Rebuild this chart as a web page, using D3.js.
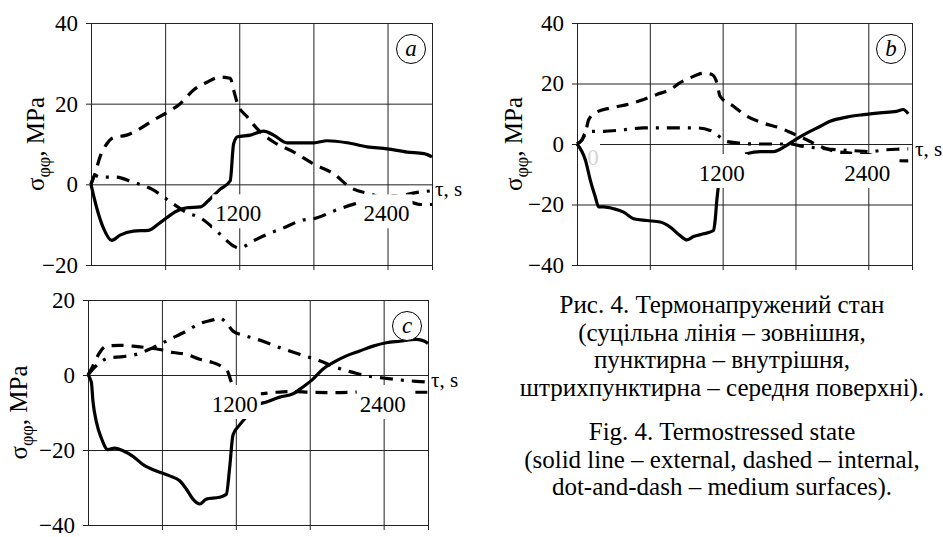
<!DOCTYPE html>
<html>
<head>
<meta charset="utf-8">
<script src="https://cdn.jsdelivr.net/npm/d3@7"></script>
<style>
  body { margin: 0; background: #fff; }
  svg { display: block; }
  svg text { fill: #000; }
</style>
</head>
<body>
<svg id="fig" width="943" height="537"></svg>
<script>
// time axis (s)
var tGrid = [600, 1200, 1800, 2400, 2760];
var tLabels = [1200, 2400];
var tMax = 2760;

// panel a
var aYTicks = [-20, 0, 20, 40];
var aExternal = [[0,0],[46,-5.8],[100,-10.8],[168,-13.9],[235,-12.6],[343,-11.6],[465,-11.4],[560,-9.5],[695,-6.6],[776,-5.8],[884,-5.6],[951,-4],[1046,-1.2],[1127,0.9],[1154,10],[1186,11.8],[1289,12.2],[1397,13.2],[1478,12.2],[1586,10.3],[1803,10.3],[1911,10.8],[2073,10.3],[2235,9.3],[2397,8.8],[2559,8],[2695,7.6],[2760,6.8]];
var aInternal = [[0,0],[32,2.6],[73,6.8],[127,10],[181,11.6],[289,12.2],[397,13.8],[505,15.9],[614,17.8],[722,20],[830,23.4],[938,25.3],[1046,26.6],[1127,26.3],[1154,23.4],[1186,20],[1262,16.8],[1370,13],[1478,10.5],[1641,8],[1803,5],[1965,2.6],[2100,-0.8],[2262,-2.4],[2370,-3.3],[2451,-2.8],[2559,-4],[2668,-5],[2760,-5]];
var aMedium = [[0,0],[32,2.2],[73,1.8],[195,1.8],[343,0.5],[492,-1.2],[614,-3.7],[668,-4.9],[776,-7],[884,-8.3],[1046,-12.4],[1154,-15.3],[1197,-15.8],[1316,-14],[1424,-12.4],[1559,-10.8],[1695,-9],[1830,-8.3],[1965,-6.6],[2127,-4.9],[2235,-4],[2505,-2.8],[2640,-2],[2760,-1.6]];

// panel b
var bYTicks = [-40, -20, 0, 20, 40];
var bExternal = [[0,0],[69,-5.3],[110,-12],[151,-17.5],[178,-20.8],[219,-20.8],[302,-21.4],[384,-22.5],[466,-24.7],[576,-25.3],[686,-25.8],[768,-27.5],[850,-30.3],[905,-31.7],[960,-30.6],[1042,-29.7],[1125,-28.6],[1138,-25.3],[1152,-18.6],[1166,-13.6],[1250,null],[1385,-3.3],[1509,-2.5],[1618,-2.5],[1714,-0.8],[1797,1.4],[1893,3.6],[2002,5.8],[2085,7.5],[2222,8.9],[2359,9.7],[2496,10.3],[2633,10.8],[2688,11.4],[2729,10]];
var bInternal = [[0,0],[41,1.4],[69,3.6],[96,8],[151,10.3],[274,11.9],[411,13],[549,14.7],[658,16.4],[768,18],[850,20.3],[933,21.9],[1042,23.4],[1111,23],[1152,20.3],[1179,15.8],[1289,12.5],[1399,9.2],[1536,6.9],[1673,5.3],[1797,3.1],[1893,1.4],[2002,-0.8],[2139,-2.5],[2277,-3.1],[2414,-3.6],[2523,-4.7],[2633,-5.5],[2729,-5.6]];
var bMedium = [[0,0],[41,1.4],[69,3.6],[137,4.2],[219,4.2],[384,4.7],[549,5.3],[768,5.3],[987,5.3],[1097,4.5],[1152,3.1],[1234,0.8],[1344,0.3],[1454,0],[1591,0],[1755,0],[1865,-0.8],[2002,-1.4],[2139,-1.9],[2277,-2.2],[2414,-2.5],[2551,-1.9],[2661,-1.7],[2729,-1.6]];

// panel c
var cYTicks = [-40, -20, 0, 20];
var cExternal = [[0,0],[27,-1.9],[41,-7.2],[68,-12.5],[108,-16.8],[162,-19.9],[216,-19.5],[284,-20.2],[365,-21.7],[447,-23.9],[555,-25.6],[663,-26.9],[744,-28.2],[798,-30.4],[852,-33.1],[906,-34.4],[960,-33.1],[1068,-32.6],[1123,-31.8],[1150,-24.7],[1177,-16],[1231,-13.3],[1299,-10.7],[1367,-8.1],[1448,-7.2],[1556,-5.9],[1664,-5],[1745,-3.2],[1826,-1.1],[1908,1.6],[1989,3.3],[2097,5.1],[2205,6.4],[2314,7.7],[2422,8.6],[2530,9],[2665,9.5],[2733,9],[2760,8.4]];
var cInternal = [[0,0],[41,2.5],[95,6],[149,7.7],[257,7.9],[365,7.7],[474,7.3],[582,6.8],[690,6],[798,5.5],[906,4.2],[1014,3.3],[1096,2],[1137,0.7],[1164,-1.9],[1191,-3.2],[1394,-5],[1529,-4.6],[1664,-4.4],[1799,-4.6],[1989,-4.7],[2124,-4.6],[2259,-4.4],[2394,-4.1],[2530,-4.3],[2665,-4.6],[2760,-4.6]];
var cMedium = [[0,0],[41,1.6],[95,3.3],[176,4.6],[284,4.9],[392,5.5],[528,7.3],[663,9.5],[798,11.7],[906,13.7],[1014,14.7],[1068,15.2],[1123,13.9],[1177,11.7],[1285,10.4],[1421,9],[1556,7.3],[1718,5.5],[1881,3.8],[2016,2],[2151,0.7],[2259,-0.2],[2394,-0.8],[2530,-1.3],[2665,-1.7],[2760,-1.9]];

var captionUk = ["Рис. 4. Термонапружений стан", "(суцільна лінія – зовнішня,", "пунктирна – внутрішня,", "штрихпунктирна – середня поверхні)."];
var captionEn = ["Fig. 4. Termostressed state", "(solid line – external, dashed – internal,", "dot-and-dash – medium surfaces)."];

var svg = d3.select("svg#fig");
var fontSize = 23;
var serif = "Liberation Serif, serif";

var panels = [
  { tag: "a", left: 91, right: 432, top: 23, bottom: 265, titleX: 35, yTicks: aYTicks, series: [aExternal, aInternal, aMedium] },
  { tag: "b", left: 577, right: 912, top: 23, bottom: 265, titleX: 513, yTicks: bYTicks, series: [bExternal, bInternal, bMedium], originLabel: true },
  { tag: "c", left: 88, right: 428, top: 300, bottom: 525, titleX: 18, yTicks: cYTicks, series: [cExternal, cInternal, cMedium] }
];

var dashes = [null, "12,8", "13,8,3,8"];

function drawPanel(p) {
  var w = p.right - p.left, h = p.bottom - p.top;
  var x = d3.scaleLinear().domain([0, tMax]).range([p.left, p.right]);
  var y = d3.scaleLinear().domain(d3.extent(p.yTicks)).range([p.bottom, p.top]);
  var y0 = y(0);
  var g = svg.append("g").attr("class", "panel-" + p.tag);

  // vertical grid + top border
  g.append("g")
    .attr("transform", "translate(0," + p.top + ")")
    .call(d3.axisBottom(x).tickValues(tGrid).tickSize(h + 5).tickSizeOuter(0).tickFormat(""));

  // horizontal grid + right border
  g.append("g")
    .attr("transform", "translate(" + p.right + ",0)")
    .call(d3.axisLeft(y).tickValues(p.yTicks).tickSize(w + 5).tickSizeOuter(0).tickFormat(""));

  // left axis with labels
  g.append("g")
    .attr("transform", "translate(" + p.left + ",0)")
    .call(d3.axisLeft(y).tickValues(p.yTicks).tickSize(0).tickPadding(13).tickFormat(d3.format("d")))
    .call(s => s.attr("font-family", serif).attr("font-size", fontSize))
    .call(s => s.selectAll("text").attr("fill", "#000"));

  g.selectAll(".tick line, .domain").attr("stroke", "#222").attr("stroke-width", 1);

  // faded origin label (sits under the curves)
  if (p.originLabel) {
    g.append("rect")
      .attr("x", p.left + 1)
      .attr("y", y0 - 3)
      .attr("width", 22)
      .attr("height", 28)
      .attr("fill", "#fff");
    g.append("text")
      .attr("x", p.left + 16)
      .attr("y", y0 + 21)
      .attr("text-anchor", "middle")
      .attr("font-family", serif)
      .attr("font-size", fontSize)
      .style("fill", "#d4d4d4")
      .text(0);
  }

  // curves
  var line = d3.line()
    .defined(d => d[1] !== null)
    .x(d => x(d[0]))
    .y(d => y(d[1]))
    .curve(d3.curveMonotoneX);

  g.selectAll("path.curve")
    .data(p.series)
    .enter().append("path")
    .attr("class", "curve")
    .attr("d", line)
    .attr("fill", "none")
    .attr("stroke", "#000")
    .attr("stroke-width", 3.2)
    .attr("stroke-dasharray", (d, i) => dashes[i]);

  // time labels on the zero line
  var lab = g.selectAll("g.tlabel")
    .data(tLabels)
    .enter().append("g")
    .attr("class", "tlabel");
  lab.append("rect")
    .attr("x", d => x(d) - 27)
    .attr("y", y0 + 10)
    .attr("width", 52)
    .attr("height", 34)
    .attr("fill", "#fff");
  lab.append("text")
    .attr("x", d => x(d) - 1)
    .attr("y", y0 + 37)
    .attr("text-anchor", "middle")
    .attr("font-family", serif)
    .attr("font-size", fontSize)
    .text(d => d);

  g.append("text")
    .attr("x", p.right + 3)
    .attr("y", y0 + 12)
    .attr("font-family", serif)
    .attr("font-size", 21)
    .text("τ, s");

  // panel tag
  g.append("circle")
    .attr("cx", p.right - 21)
    .attr("cy", p.top + 26)
    .attr("r", 14.5)
    .attr("fill", "#fff")
    .attr("stroke", "#000")
    .attr("stroke-width", 1);
  g.append("text")
    .attr("x", p.right - 21)
    .attr("y", p.top + 33)
    .attr("text-anchor", "middle")
    .attr("font-family", serif)
    .attr("font-size", fontSize)
    .attr("font-style", "italic")
    .text(p.tag);

  // y title
  var title = g.append("text")
    .attr("transform", "translate(" + p.titleX + "," + ((p.top + p.bottom) / 2) + ") rotate(-90)")
    .attr("text-anchor", "middle")
    .attr("dy", "0.35em")
    .attr("font-family", serif)
    .attr("font-size", 25);
  title.append("tspan").text("σ");
  title.append("tspan").attr("dy", 6).attr("font-size", 18).text("φφ");
  title.append("tspan").attr("dy", -6).text(", MPa");
}

panels.forEach(drawPanel);

// caption
var capX = 722, capSize = 25;
svg.selectAll("text.capUk")
  .data(captionUk)
  .enter().append("text")
  .attr("class", "capUk")
  .attr("x", capX)
  .attr("y", (d, i) => 313 + i * 27.5)
  .attr("text-anchor", "middle")
  .attr("font-family", serif)
  .attr("font-size", capSize)
  .text(d => d);

svg.selectAll("text.capEn")
  .data(captionEn)
  .enter().append("text")
  .attr("class", "capEn")
  .attr("x", capX)
  .attr("y", (d, i) => 440 + i * 27.5)
  .attr("text-anchor", "middle")
  .attr("font-family", serif)
  .attr("font-size", capSize)
  .text(d => d);
</script>
</body>
</html>
